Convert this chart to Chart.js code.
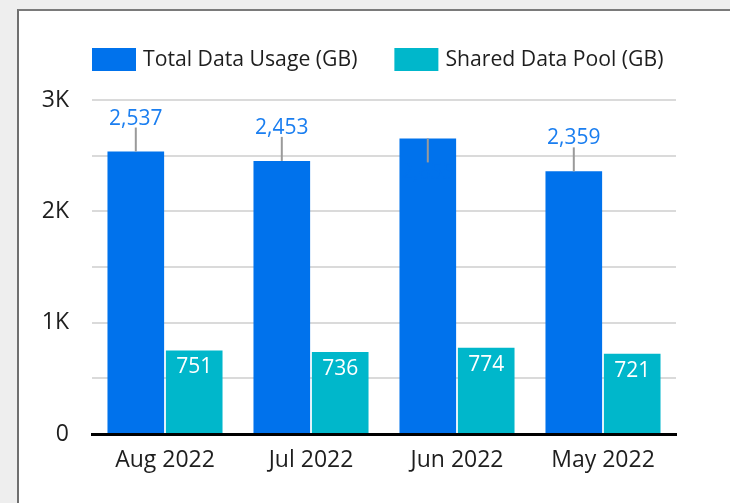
<!DOCTYPE html>
<html>
<head>
<meta charset="utf-8">
<script src="https://cdn.jsdelivr.net/npm/chart.js@4/dist/chart.umd.min.js"></script>
<style>
  html, body { margin: 0; padding: 0; background: #eeeeee; width: 730px; height: 503px; overflow: hidden; }
  #frame { position: absolute; left: 17px; top: 9px; width: 760px; height: 520px; background: #ffffff;
           border-left: 2px solid #6f6f6f; border-top: 2px solid #7a7a7a; }
  #c { position: absolute; left: 0; top: 0; }
</style>
</head>
<body>
<div id="frame"></div>
<canvas id="c" width="730" height="503"></canvas>
<script>
const categories = ['Aug 2022', 'Jul 2022', 'Jun 2022', 'May 2022'];
const totalUsage = [2537, 2453, 2655, 2359];
const sharedPool = [751, 736, 774, 721];
const seriesNames = ['Total Data Usage (GB)', 'Shared Data Pool (GB)'];
const yTickLabels = { 0: '0', 1000: '1K', 2000: '2K', 3000: '3K' };

const FONT = "'Open Sans', 'Noto Sans', sans-serif";
const BLUE = '#0072ec';
const TEAL = '#00b7cb';

const labelPlugin = {
  id: 'valueLabels',
  afterDatasetsDraw(chart) {
    const ctx = chart.ctx;
    const area = chart.chartArea;
    ctx.save();
    ctx.font = '21px ' + FONT;
    ctx.textAlign = 'center';
    ctx.textBaseline = 'middle';
    chart.getDatasetMeta(0).data.forEach((bar, i) => {
      const v = chart.data.datasets[0].data[i];
      const txt = v.toLocaleString('en-US');
      const top = bar.y;
      const cy = top - 33;
      ctx.strokeStyle = '#9a9a9a';
      ctx.lineWidth = 2;
      ctx.beginPath();
      if (cy - 12 < area.top) {
        ctx.moveTo(bar.x, top);
        ctx.lineTo(bar.x, top + 24);
        ctx.stroke();
        ctx.fillStyle = BLUE;
        ctx.fillText(txt, bar.x, top + 35);
      } else {
        ctx.moveTo(bar.x, top - 24);
        ctx.lineTo(bar.x, top);
        ctx.stroke();
        ctx.fillStyle = '#1a7ef0';
        ctx.fillText(txt, bar.x, cy);
      }
    });
    chart.getDatasetMeta(1).data.forEach((bar, i) => {
      const v = chart.data.datasets[1].data[i];
      ctx.fillStyle = '#ffffff';
      ctx.fillText(v.toLocaleString('en-US'), bar.x, bar.y + 17);
    });
    ctx.restore();
  },
  afterDraw(chart) {
    const ctx = chart.ctx;
    const area = chart.chartArea;
    ctx.save();
    ctx.font = '21.2px ' + FONT;
    ctx.textAlign = 'left';
    ctx.textBaseline = 'middle';
    let x = area.left;
    const boxTop = area.top - 52;
    chart.data.datasets.forEach((ds) => {
      ctx.fillStyle = ds.backgroundColor;
      ctx.fillRect(x, boxTop, 44, 23);
      x += 44 + 7;
      ctx.fillStyle = '#1e1e1e';
      ctx.fillText(ds.label, x, boxTop + 12);
      x += ctx.measureText(ds.label).width + 37;
    });
    ctx.restore();
  }
};

new Chart(document.getElementById('c'), {
  type: 'bar',
  data: {
    labels: categories,
    datasets: [
      { label: seriesNames[0], data: totalUsage, backgroundColor: BLUE, borderWidth: 0,
        categoryPercentage: 0.8, barPercentage: 0.97 },
      { label: seriesNames[1], data: sharedPool, backgroundColor: TEAL, borderWidth: 0,
        categoryPercentage: 0.8, barPercentage: 0.97 }
    ]
  },
  options: {
    responsive: false,
    animation: false,
    layout: { padding: { left: 32, right: 54, top: 100, bottom: 24 } },
    plugins: {
      legend: { display: false },
      tooltip: { enabled: false }
    },
    scales: {
      x: {
        grid: { display: false, drawTicks: false },
        border: { display: true, color: '#000000', width: 3 },
        ticks: { color: '#1e1e1e', font: { family: FONT, size: 23 }, padding: 13 },
        afterFit(scale) { scale.height = 45; }
      },
      y: {
        min: 0,
        max: 3000,
        border: { display: false },
        grid: {
          drawTicks: false,
          lineWidth: 2,
          color: (c) => c.tick && c.tick.value === 0 ? 'rgba(0,0,0,0)' : '#dadada'
        },
        ticks: {
          stepSize: 500,
          autoSkip: false,
          padding: 23,
          color: '#1e1e1e',
          font: { family: FONT, size: 23 },
          callback: (v) => (yTickLabels[v] !== undefined ? yTickLabels[v] : '')
        },
        afterFit(scale) { scale.width = 60; }
      }
    }
  },
  plugins: [labelPlugin]
});
</script>
</body>
</html>
